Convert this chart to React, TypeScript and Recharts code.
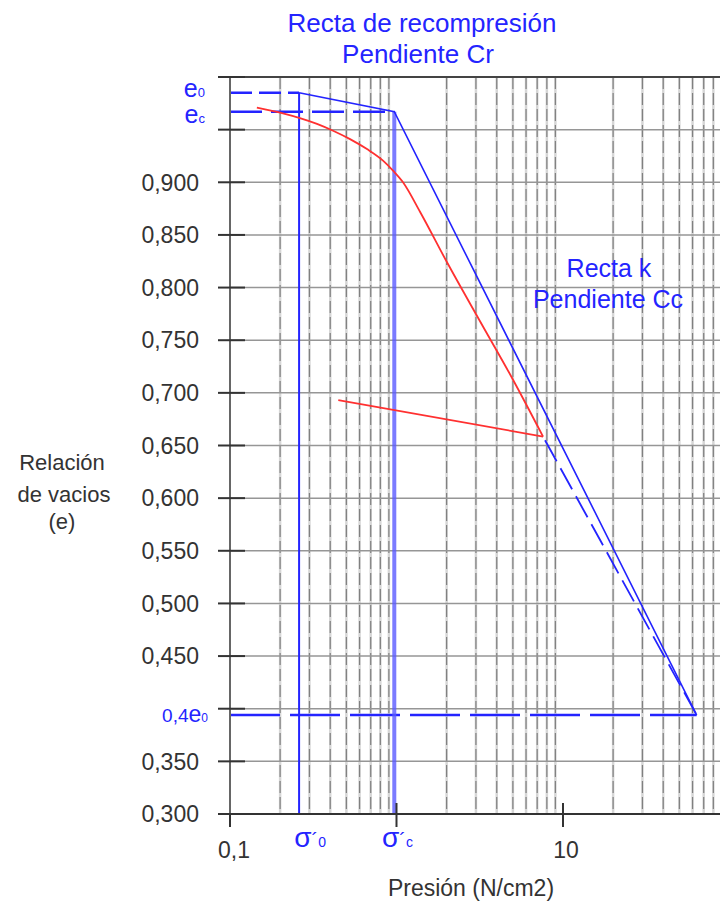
import React from 'react'
import { LineChart, Line, XAxis, YAxis, CartesianGrid, ReferenceLine } from 'recharts'

// valores
const E0 = 0.985
const EC = 0.967
const E_FIN = 0.394 // 0,4 e0
const SIG_0 = 0.26
const SIG_C = 0.97
const P_FIN = 63.5

const CURVA_P = [0.145, 0.208, 0.263, 0.333, 0.416, 0.526, 0.665, 0.83, 0.953, 1.094, 1.384, 2.011, 3.174, 5.009, 7.59]
const CURVA_E = [0.971, 0.9655, 0.961, 0.9555, 0.949, 0.941, 0.9315, 0.9205, 0.911, 0.9, 0.872, 0.824, 0.768, 0.7125, 0.6585]

const REBOTE_P = [0.447, 7.59]
const REBOTE_E = [0.693, 0.6585]

const RECOMP_P = [SIG_0, SIG_C, P_FIN]
const RECOMP_E = [E0, EC, E_FIN]

const PROLONG_P = [7.8, P_FIN]
const PROLONG_E = [0.655, E_FIN]

const Y_TICKS = [0.3, 0.35, 0.4, 0.45, 0.5, 0.55, 0.6, 0.65, 0.7, 0.75, 0.8, 0.85, 0.9, 0.95, 1.0]
const Y_GRID = [0.35, 0.4, 0.45, 0.5, 0.55, 0.6, 0.65, 0.7, 0.75, 0.8, 0.85, 0.9, 0.95]
const Y_SIN_TEXTO = [0.4, 0.95, 1.0]
const X_TICKS = [0.1, SIG_0, 1, 10]
const X_MENORES = [0.2, 0.3, 0.4, 0.5, 0.6, 0.7, 0.8, 0.9, 2, 3, 4, 5, 6, 7, 8, 9, 20, 30, 40, 50, 60, 70, 80]

const AZUL = '#2424ff'
const ROJO = '#ff3030'
const GRIS = '#333'
const FONT = '"Liberation Sans", Arial, sans-serif'

const pts = (p: number[], e: number[]) => p.map((v, i) => ({ p: v, e: e[i] }))

function YTick({ x, y, payload }: any) {
  const v = payload.value
  if (v === E0 || v === EC) {
    return (
      <text x={x - 25} y={y + (v === E0 ? 4 : 11)} textAnchor="end" fill={AZUL} fontFamily={FONT}>
        <tspan fontSize={25}>e</tspan>
        <tspan fontSize={13}>{v === E0 ? '0' : 'c'}</tspan>
      </text>
    )
  }
  if (v === E_FIN) {
    return (
      <text x={x - 22} y={y + 7} textAnchor="end" fill={AZUL} fontFamily={FONT}>
        <tspan fontSize={19}>0,4</tspan>
        <tspan fontSize={23}>e</tspan>
        <tspan fontSize={12}>0</tspan>
      </text>
    )
  }
  return (
    <g>
      <line x1={x - 12} x2={x + 15} y1={y} y2={y} stroke={GRIS} strokeWidth={2} />
      {!Y_SIN_TEXTO.includes(v) && (
        <text x={x - 31} y={y} dy="0.36em" textAnchor="end" fontSize={23} fill={GRIS} fontFamily={FONT}>
          {v.toFixed(3).replace('.', ',')}
        </text>
      )}
    </g>
  )
}

function XTick({ x, y, payload }: any) {
  const v = payload.value
  if (v === SIG_0 || v === 1) {
    return (
      <g>
        {v === 1 && <line x1={x} x2={x} y1={y - 11} y2={y + 13} stroke={GRIS} strokeWidth={2} />}
        <text x={x + (v === 1 ? 1 : 11)} y={y + 33} textAnchor="middle" fill={AZUL} fontFamily={FONT}>
          <tspan fontSize={28}>σ</tspan>
          <tspan fontSize={20}>´</tspan>
          <tspan fontSize={14}>{v === 1 ? 'c' : '0'}</tspan>
        </text>
      </g>
    )
  }
  return (
    <g>
      <line x1={x} x2={x} y1={v === 0.1 ? y : y - 11} y2={y + 13} stroke={GRIS} strokeWidth={2} />
      <text x={x + (v === 0.1 ? 4 : 3)} y={y + 44} textAnchor="middle" fontSize={23} fill={GRIS} fontFamily={FONT}>
        {v === 0.1 ? '0,1' : '10'}
      </text>
    </g>
  )
}

export default function App() {
  const lineProps = { dataKey: 'e', dot: false, activeDot: false, isAnimationActive: false, legendType: 'none' as const }
  return (
    <div style={{ position: 'absolute', left: 0, top: 0, width: 720, height: 904, background: '#fff', fontFamily: FONT }}>
      <LineChart width={720} height={904} margin={{ top: 77, right: 0, bottom: 50, left: 170 }}>
        <CartesianGrid horizontal={false} verticalValues={X_MENORES} stroke="#d6d6d6" strokeWidth={2.5} />
        <CartesianGrid horizontal={false} verticalValues={X_MENORES} stroke="#808080" strokeWidth={1.2} strokeDasharray="12 4" />
        <CartesianGrid vertical={false} horizontalValues={Y_GRID} stroke="#969696" strokeWidth={1.5} />
        <XAxis dataKey="p" type="number" scale="log" domain={[0.1, 87.7]} allowDataOverflow
          ticks={X_TICKS} interval={0} height={40} tickSize={0} tickMargin={0} tickLine={false}
          axisLine={{ stroke: GRIS, strokeWidth: 2 }} tick={<XTick />} />
        <YAxis type="number" domain={[0.3, 1.0]} allowDataOverflow ticks={[...Y_TICKS, E0, EC, E_FIN]}
          interval={0} width={60} tickSize={0} tickMargin={0} tickLine={false}
          axisLine={{ stroke: '#666', strokeWidth: 2 }} tick={<YTick />} />
        <ReferenceLine y={1.0} stroke="#444" strokeWidth={2} />

        {/* líneas auxiliares azules */}
        <Line {...lineProps} data={pts([0.1, SIG_0], [E0, E0])} stroke={AZUL} strokeWidth={2.5} strokeDasharray="22 7" />
        <Line {...lineProps} data={pts([0.1, SIG_C], [EC, EC])} stroke={AZUL} strokeWidth={2.5} strokeDasharray="32 9" />
        <Line {...lineProps} data={pts([0.1, P_FIN], [E_FIN, E_FIN])} stroke={AZUL} strokeWidth={2.5} strokeDasharray="50 10" />
        <Line {...lineProps} data={pts([SIG_0, SIG_0], [0.3, E0])} stroke={AZUL} strokeWidth={2} />
        <Line {...lineProps} data={pts([SIG_C, SIG_C], [0.3, EC])} stroke="#5a5aff" strokeWidth={4} strokeOpacity={0.8} />
        <Line {...lineProps} data={pts(RECOMP_P, RECOMP_E)} stroke={AZUL} strokeWidth={1.6} />
        <Line {...lineProps} data={pts(PROLONG_P, PROLONG_E)} stroke={AZUL} strokeWidth={1.8} strokeDasharray="24 8" />

        {/* curva de ensayo */}
        <Line {...lineProps} type="monotone" data={pts(CURVA_P, CURVA_E)} stroke={ROJO} strokeWidth={1.8} />
        <Line {...lineProps} data={pts(REBOTE_P, REBOTE_E)} stroke={ROJO} strokeWidth={1.8} />
      </LineChart>

      <svg width={720} height={904} style={{ position: 'absolute', left: 0, top: 0, pointerEvents: 'none' }}>
        <g fontFamily={FONT} fill={AZUL} textAnchor="middle">
          <text x={422} y={32} fontSize={26}>Recta de recompresión</text>
          <text x={418} y={63} fontSize={26}>Pendiente Cr</text>
          <text x={609} y={277} fontSize={25}>Recta k</text>
          <text x={608} y={308} fontSize={25}>Pendiente Cc</text>
        </g>
        <g fontFamily={FONT} fill={GRIS} textAnchor="middle">
          <text x={62} y={470} fontSize={22}>Relación</text>
          <text x={64} y={502} fontSize={22}>de vacios</text>
          <text x={62} y={529} fontSize={22}>(e)</text>
          <text x={471} y={896} fontSize={23}>Presión (N/cm2)</text>
        </g>
      </svg>
    </div>
  )
}
